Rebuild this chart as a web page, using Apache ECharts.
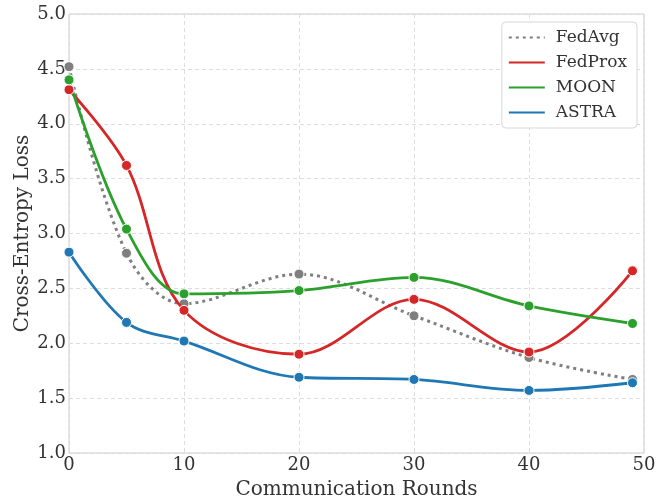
<!DOCTYPE html>
<html>
<head>
<meta charset="utf-8">
<script src="https://cdn.jsdelivr.net/npm/echarts@6/dist/echarts.min.js"></script>
<style>
  html, body { margin: 0; padding: 0; background: #fff; }
  #chart { width: 656px; height: 501px; }
</style>
</head>
<body>
<div id="chart"></div>
<script>
// communication rounds where loss was measured
const rounds = [0, 5, 10, 20, 30, 40, 49]
const fedAvg = [4.52, 2.82, 2.36, 2.63, 2.25, 1.87, 1.67]
const fedProx = [4.31, 3.62, 2.30, 1.90, 2.40, 1.92, 2.66]
const moon = [4.40, 3.04, 2.45, 2.48, 2.60, 2.34, 2.18]
const astra = [2.83, 2.19, 2.02, 1.69, 1.67, 1.57, 1.64]

const font = 'DejaVu Serif'
const pair = vals => rounds.map((r, i) => [r, vals[i]])

let makeSeries = (name, vals, color, dotted) => {
  return {
    name: name,
    type: 'line',
    smooth: 0.35,
    data: pair(vals),
    symbol: 'circle',
    symbolSize: 10,
    itemStyle: {
      color: color,
      borderColor: '#fff',
      borderWidth: 1
    },
    lineStyle: {
      color: color,
      width: dotted ? 3 : 2.8,
      type: dotted ? [3, 4] : 'solid'
    },
    z: dotted ? 1 : 2
  }
}

const chart = echarts.init(document.getElementById('chart'))
chart.setOption({
  animation: false,
  backgroundColor: '#fff',
  textStyle: { fontFamily: font },
  grid: {
    left: 69,
    right: 12,
    top: 14,
    bottom: 48,
    outerBoundsMode: 'none',
    containLabel: false,
    show: true,
    borderColor: '#cccccc',
    borderWidth: 1
  },
  legend: {
    right: 19,
    top: 22,
    orient: 'vertical',
    itemWidth: 36,
    itemHeight: 12,
    itemGap: 8,
    padding: [7, 10, 7, 6],
    borderColor: '#d8d8d8',
    borderWidth: 1,
    borderRadius: 4,
    backgroundColor: '#fff',
    itemStyle: { opacity: 0 },
    textStyle: { fontFamily: font, fontSize: 17, color: '#333', padding: [0, 0, 0, 6] },
    data: ['FedAvg', 'FedProx', 'MOON', 'ASTRA']
  },
  xAxis: {
    type: 'value',
    min: 0,
    max: 50,
    interval: 10,
    name: 'Communication Rounds',
    nameLocation: 'middle',
    nameGap: 27,
    nameMoveOverlap: false,
    nameTextStyle: { fontFamily: font, fontSize: 20, color: '#333' },
    axisLine: { show: false },
    axisTick: { show: false },
    axisLabel: { fontFamily: font, fontSize: 18, color: '#333', margin: 3 },
    splitLine: { show: true, lineStyle: { color: '#dddddd', type: [4, 3], width: 1 } }
  },
  yAxis: {
    type: 'value',
    min: 1.0,
    max: 5.0,
    interval: 0.5,
    name: 'Cross-Entropy Loss',
    nameLocation: 'middle',
    nameGap: 36,
    nameMoveOverlap: false,
    nameTextStyle: { fontFamily: font, fontSize: 20, color: '#333' },
    axisLine: { show: false },
    axisTick: { show: false },
    axisLabel: {
      fontFamily: font,
      fontSize: 18,
      color: '#333',
      margin: 3,
      formatter: v => v.toFixed(1)
    },
    splitLine: { show: true, lineStyle: { color: '#dddddd', type: [4, 3], width: 1 } }
  },
  series: [
    makeSeries('FedAvg', fedAvg, '#7f7f7f', true),
    makeSeries('FedProx', fedProx, '#d62728', false),
    makeSeries('MOON', moon, '#2ca02c', false),
    makeSeries('ASTRA', astra, '#1f77b4', false)
  ]
})
</script>
</body>
</html>
